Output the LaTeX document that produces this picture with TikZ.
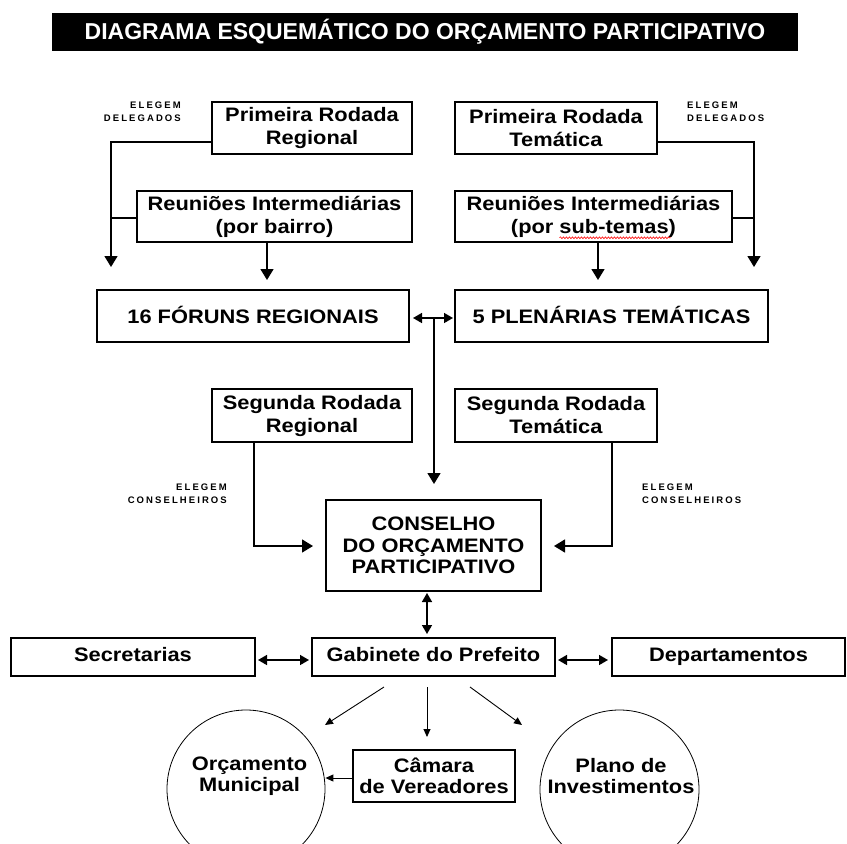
\documentclass[tikz,border=0pt]{standalone}
\usepackage{fontspec}
\setmainfont{Liberation Sans}
\newfontfamily\boxfont[FakeStretch=1.12]{Liberation Sans}
\newfontfamily\spacedfont[LetterSpace=22]{Liberation Sans}
\usetikzlibrary{arrows.meta,decorations.pathmorphing}
\begin{document}
\begin{tikzpicture}[x=1pt,y=-1pt,
 box/.style={draw, line width=1.5pt, align=center, inner sep=0pt, font=\fontsize{19.5}{23}\selectfont\boxfont\bfseries},
 oneline/.style={text height=14pt, text depth=5pt},
 txt/.style={align=center, inner sep=0pt, font=\fontsize{19.5}{21}\selectfont\boxfont\bfseries},
 smallL/.style={inner sep=0pt, align=right, font=\fontsize{9.5}{13}\selectfont\spacedfont\bfseries},
 smallR/.style={inner sep=0pt, align=left, font=\fontsize{9.5}{13}\selectfont\spacedfont\bfseries},
 arr/.style={line width=1.5pt, -{Triangle[width=13pt,length=11pt]}},
 darr/.style={line width=1.5pt, {Triangle[width=10pt,length=9pt]}-{Triangle[width=10pt,length=9pt]}},
 tarr/.style={line width=0.9pt, -{Triangle[width=7pt,length=8pt]}},
 ring/.style={draw, circle, line width=0.8pt, inner sep=0pt}
 ]
\useasboundingbox[fill=white] (0,0) rectangle (847,844);

% title
\node[fill=black, text=white, minimum width=746pt, minimum height=38pt, inner sep=0pt,
      font=\fontsize{23}{23}\selectfont\bfseries] (title) at (425,32)
      {DIAGRAMA ESQUEMÁTICO DO ORÇAMENTO PARTICIPATIVO};

% boxes
\node[box, minimum width=200pt, minimum height=52pt] (pr1) at (312,128) {Primeira Rodada\\Regional};
\node[box, minimum width=202pt, minimum height=52pt] (pt1) at (556,128) {Primeira Rodada\\Temática};
\node[box, minimum width=275pt, minimum height=51pt] (ri1) at (274.5,216.5) {Reuniões Intermediárias\\(por bairro)};
\node[box, minimum width=277pt, minimum height=51pt] (ri2) at (593.5,216.5) {Reuniões Intermediárias\\(por sub-temas)};
\node[box, oneline, text depth=0pt, minimum width=312pt, minimum height=52pt] (f16) at (253,316) {16 FÓRUNS REGIONAIS};
\node[box, oneline, text depth=0pt, minimum width=313pt, minimum height=52pt] (p5) at (611.5,316) {5 PLENÁRIAS TEMÁTICAS};
\node[box, minimum width=200pt, minimum height=53pt] (sr1) at (312,415.5) {Segunda Rodada\\Regional};
\node[box, minimum width=202pt, minimum height=53pt] (st1) at (556,415.5) {Segunda Rodada\\Temática};
\node[box, minimum width=215pt, minimum height=91pt, font=\fontsize{19.5}{21.5}\selectfont\boxfont\bfseries] (cons) at (433.5,545.5) {CONSELHO\\DO ORÇAMENTO\\PARTICIPATIVO};
\node[box, oneline, minimum width=243pt, minimum height=38pt] (gab) at (433.5,657) {Gabinete do Prefeito};
\node[box, oneline, minimum width=244pt, minimum height=38pt] (sec) at (133,657) {Secretarias};
\node[box, oneline, minimum width=233pt, minimum height=38pt] (dep) at (728.5,657) {Departamentos};
\node[box, minimum width=162pt, minimum height=52pt, font=\fontsize{19.5}{21}\selectfont\boxfont\bfseries] (cam) at (434,776) {Câmara\\de Vereadores};
\node[ring, minimum size=158pt] (orc) at (246,789) {};
\node[ring, minimum size=159pt] (plano) at (619.5,789.5) {};
\node[txt] (orcT) at (249.5,776.5) {Orçamento\\Municipal};
\node[txt] (planoT) at (621,776.5) {Plano de\\Investimentos};

% small labels
\node[smallL, anchor=east] (elL1) at (181,111.5) {ELEGEM\\DELEGADOS};
\node[smallR, anchor=west] (elR1) at (687,111.5) {ELEGEM\\DELEGADOS};
\node[smallL, anchor=east] (elL2) at (227,494) {ELEGEM\\CONSELHEIROS};
\node[smallR, anchor=west] (elR2) at (642,494) {ELEGEM\\CONSELHEIROS};

% spell-check squiggle
\draw[red, line width=0.6pt, decorate, decoration={snake, amplitude=0.9pt, segment length=3pt}]
  ([xshift=-34pt,yshift=5pt]ri2.south) -- ([xshift=77pt,yshift=5pt]ri2.south);

% coordinates
\coordinate (tL) at (111,267);
\coordinate (tR) at (754,267);
\coordinate (tA) at (267,280);
\coordinate (tB) at (598,280);
\coordinate (fp1) at (413,318);
\coordinate (fp2) at (453,318);
\coordinate (jn) at (434,318);
\coordinate (tC) at (434,484);
\coordinate (xL) at (254,546);
\coordinate (eL) at (313,546);
\coordinate (xR) at (612,546);
\coordinate (eR) at (554,546);
\coordinate (cg1) at (427,593);
\coordinate (cg2) at (427,634);
\coordinate (sg1) at (258,660);
\coordinate (sg2) at (309,660);
\coordinate (gd1) at (558,660);
\coordinate (gd2) at (608,660);
\coordinate (d1s) at (384,687);
\coordinate (d1e) at (325,725);
\coordinate (d2s) at (427,687);
\coordinate (d2e) at (427,737);
\coordinate (d3s) at (470,687);
\coordinate (d3e) at (522,725);

% connectors
\draw[arr] ([yshift=-14pt]pr1.west) -| (tL);
\draw[line width=1.5pt] ([yshift=-1.5pt]ri1.west) -- ([yshift=-1.5pt]ri1.west -| tL);
\draw[arr] (ri1.south -| tA) -- (tA);
\draw[arr] ([yshift=-14pt]pt1.east) -| (tR);
\draw[line width=1.5pt] ([yshift=-1.5pt]ri2.east) -- ([yshift=-1.5pt]ri2.east -| tR);
\draw[arr] (ri2.south -| tB) -- (tB);
\draw[darr] (fp1) -- (fp2);
\draw[arr] (jn) -- (tC);
\draw[arr] (sr1.south -| xL) -- (xL) -- (eL);
\draw[arr] (st1.south -| xR) -- (xR) -- (eR);
\draw[darr] (cg1) -- (cg2);
\draw[darr] (sg1) -- (sg2);
\draw[darr] (gd1) -- (gd2);
\draw[tarr] (d1s) -- (d1e);
\draw[tarr] (d2s) -- (d2e);
\draw[tarr] (d3s) -- (d3e);
\draw[tarr] ([yshift=-2pt]cam.west) -- ([yshift=-2pt]cam.west -| orc.east);
\end{tikzpicture}
\end{document}
